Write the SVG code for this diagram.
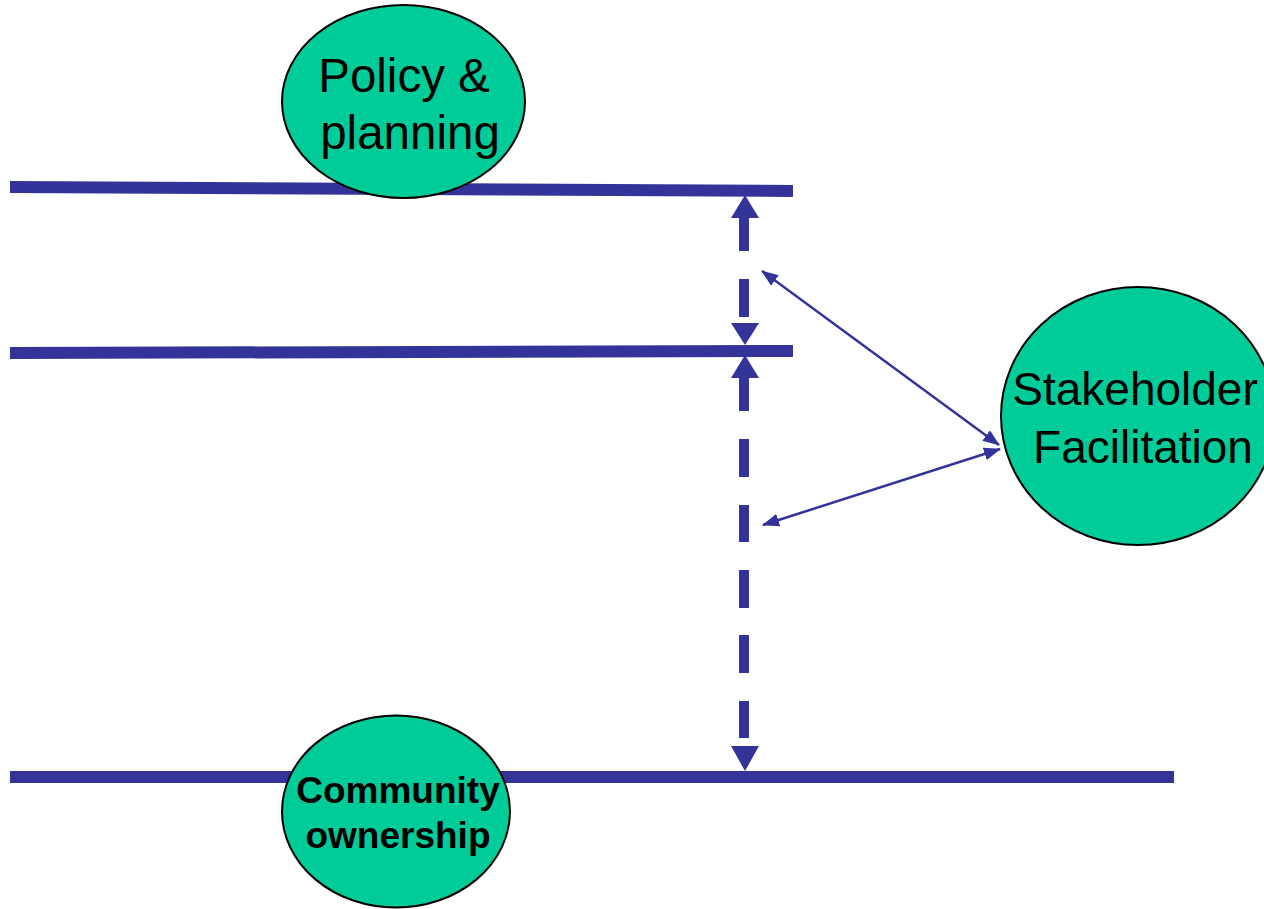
<svg xmlns="http://www.w3.org/2000/svg" width="1264" height="909" viewBox="0 0 1264 909">
  <style>
    .level { stroke: #333399; stroke-width: 12; stroke-linecap: butt; fill: none; }
    .dash { stroke: #333399; stroke-width: 10; stroke-linecap: butt; fill: none; }
    .head { fill: #333399; }
    .thin { stroke: #333399; stroke-width: 2.5; fill: none; }
    .node { fill: #00CC99; stroke: #000000; stroke-width: 2; }
    .label { font-family: "Liberation Sans", Arial, sans-serif; fill: #000000; text-anchor: middle; }
  </style>
  <defs>
    <marker id="tip" viewBox="0 0 17 13" refX="16" refY="6.5" markerWidth="17" markerHeight="13" markerUnits="userSpaceOnUse" orient="auto-start-reverse">
      <path d="M0,0 L17,6.5 L0,13 Z" fill="#333399"/>
    </marker>
  </defs>
  <rect width="1264" height="909" fill="#ffffff"/>

  <!-- horizontal levels -->
  <g id="levels">
    <line class="level" x1="10" y1="187" x2="793" y2="191"/>
    <line class="level" x1="10" y1="353" x2="793" y2="351"/>
    <line class="level" x1="10" y1="777" x2="1174" y2="777"/>
  </g>

  <!-- connectors -->
  <g id="connectors">
    <!-- dashed vertical link, upper span -->
    <path class="dash" d="M744,216V251 M744,279V317"/>
    <polygon class="head" points="745,195 731,218 759,218"/>
    <polygon class="head" points="745,345 731,323 759,323"/>
    <!-- dashed vertical link, lower span -->
    <path class="dash" d="M744,376V411 M744,439V477 M744,505V542 M744,570V608 M744,635V673 M744,701V738"/>
    <polygon class="head" points="745,355 731,378 759,378"/>
    <polygon class="head" points="745,771 731,746 759,746"/>
    <!-- facilitation links -->
    <line class="thin" x1="762" y1="271" x2="999" y2="445" marker-start="url(#tip)" marker-end="url(#tip)"/>
    <line class="thin" x1="763" y1="525" x2="1000" y2="449" marker-start="url(#tip)" marker-end="url(#tip)"/>
  </g>

  <g id="policy">
    <ellipse class="node" cx="403.5" cy="101.5" rx="121.5" ry="96.5"/>
    <text class="label" x="404" y="92" font-size="47.5">Policy &amp;</text>
    <text class="label" x="410" y="149" font-size="47.5">planning</text>
  </g>

  <g id="stakeholder">
    <ellipse class="node" cx="1138" cy="416" rx="137" ry="129"/>
    <text class="label" x="1135" y="405" font-size="46">Stakeholder</text>
    <text class="label" x="1143" y="463" font-size="46">Facilitation</text>
  </g>

  <g id="community">
    <ellipse class="node" cx="396" cy="811.5" rx="114" ry="96"/>
    <text class="label" x="398" y="803" font-size="37" font-weight="bold">Community</text>
    <text class="label" x="398" y="848" font-size="37" font-weight="bold">ownership</text>
  </g>
</svg>
